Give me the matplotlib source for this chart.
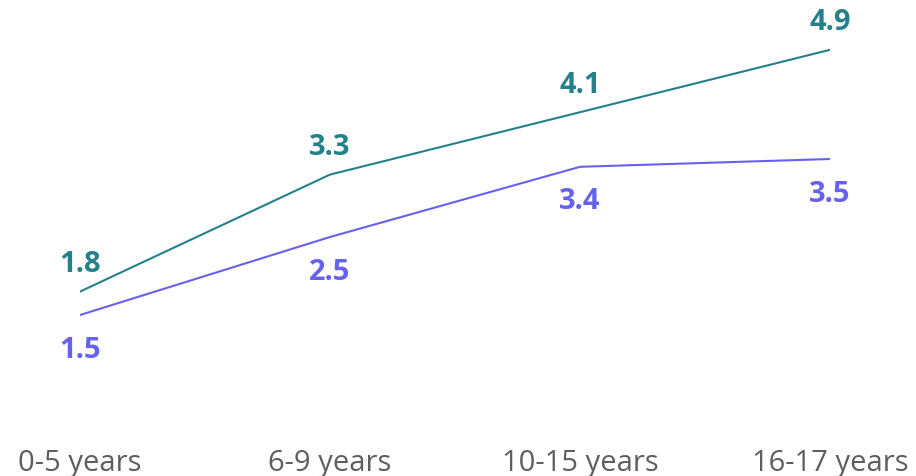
import matplotlib
matplotlib.use("Agg")
import matplotlib.pyplot as plt

# --- Data
categories = ["0-5 years", "6-9 years", "10-15 years", "16-17 years"]
teal_values = [1.8, 3.3, 4.1, 4.9]
purple_values = [1.5, 2.5, 3.4, 3.5]

TEAL = "#24808A"
PURPLE = "#6661EE"
GREY = "#605E5C"

plt.rcParams["font.family"] = ["Open Sans", "DejaVu Sans"]

fig = plt.figure(figsize=(9.16, 4.76), dpi=100)
ax = fig.add_axes([80 / 916, 44 / 476, 750 / 916, 390 / 476])

x = list(range(len(categories)))
ax.plot(x, teal_values, color=TEAL, linewidth=1.5)
ax.plot(x, purple_values, color=PURPLE, linewidth=1.5)

# value labels: teal above, purple below
for xi, v in zip(x, teal_values):
    ax.annotate(f"{v:.1f}", (xi, v), xytext=(0, 27), textcoords="offset pixels",
                ha="center", va="center", color=TEAL, fontsize=21, fontweight="bold")
for xi, v in zip(x, purple_values):
    ax.annotate(f"{v:.1f}", (xi, v), xytext=(0, -35), textcoords="offset pixels",
                ha="center", va="center", color=PURPLE, fontsize=21, fontweight="bold")

ax.set_xlim(0, 3)
ax.set_ylim(0, 5)
ax.set_xticks(x)
ax.set_xticklabels(categories, color=GREY, fontsize=21)
ax.set_yticks([])
ax.tick_params(axis="x", length=0, pad=12)
for s in ax.spines.values():
    s.set_visible(False)

fig.savefig("out.png", dpi=100)
